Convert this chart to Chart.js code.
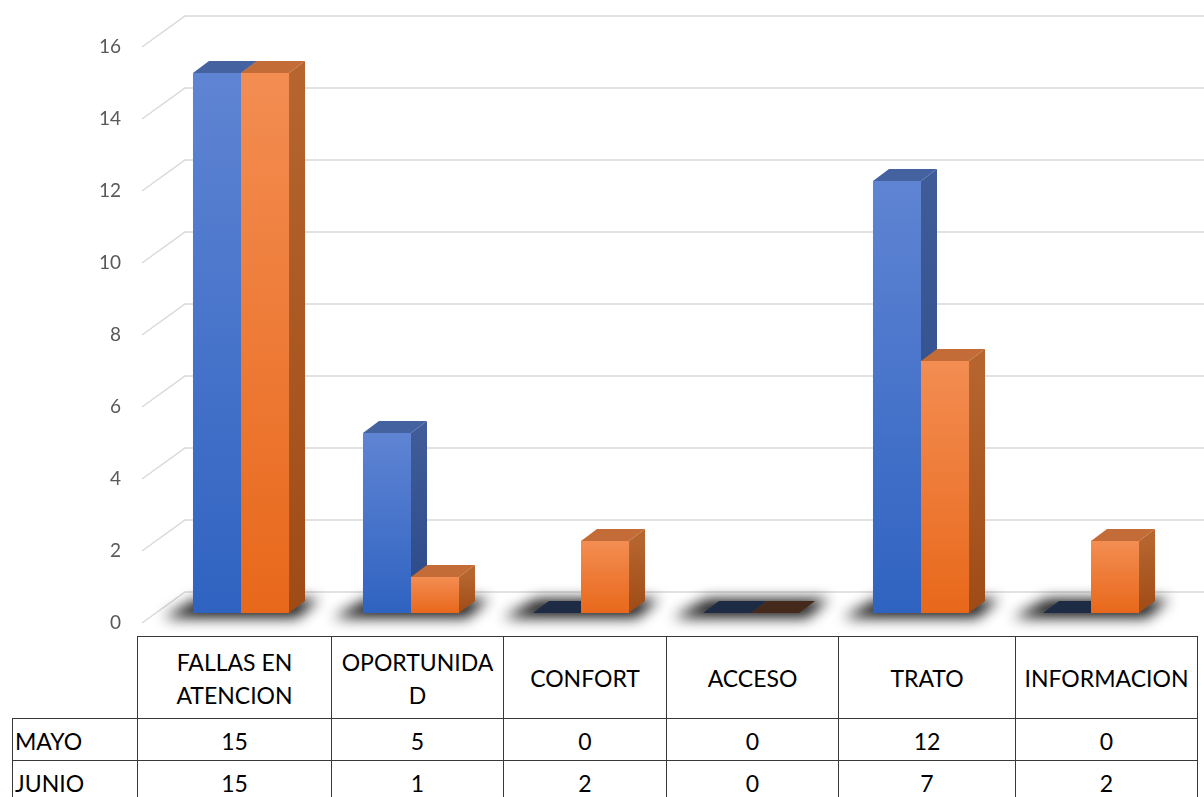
<!DOCTYPE html>
<html>
<head>
<meta charset="utf-8">
<script src="https://cdn.jsdelivr.net/npm/chart.js@4.4.0/dist/chart.umd.min.js"></script>
<style>
html, body { margin: 0; padding: 0; background: #fff; width: 1204px; height: 797px; overflow: hidden; }
#grafico { position: absolute; left: 0; top: 0; width: 1204px; height: 636px; }
#tabla { position: absolute; left: 12px; top: 636px; border-collapse: collapse; table-layout: fixed;
  font-family: Lato, "Open Sans", sans-serif; font-size: 23px; color: #000; }
#tabla td { border: 1.5px solid #383838; text-align: center; padding: 0; line-height: 33px; overflow: hidden; white-space: nowrap; }
#tabla td.vacio { border: none; }
#tabla td.serie { text-align: left; padding-left: 2px; }
#tabla tr.cab td { padding-top: 2px; }
#tabla tr.fila td { padding-top: 3px; }
#tabla tr.cab { height: 82px; }
#tabla tr.fila { height: 42px; }
#tabla td:nth-child(1) { width: 122px; }
#tabla td:nth-child(2) { width: 193px; }
#tabla td:nth-child(3) { width: 171px; }
#tabla td:nth-child(4) { width: 162px; }
#tabla td:nth-child(5) { width: 171px; }
#tabla td:nth-child(6) { width: 176px; }
#tabla td:nth-child(7) { width: 181px; }
</style>
</head>
<body>
<div id="grafico"><canvas id="lienzo"></canvas></div>
<table id="tabla"></table>
<script>
// datos
const categorias = [['FALLAS EN', 'ATENCION'], ['OPORTUNIDA', 'D'], 'CONFORT', 'ACCESO', 'TRATO', 'INFORMACION'];
const series = ['MAYO', 'JUNIO'];
const mayo = [15, 5, 0, 0, 12, 0];
const junio = [15, 1, 2, 0, 7, 2];
const yMin = 0, yMax = 16, yPaso = 2;

// colores de cada cara (frente arriba/abajo, costado arriba/abajo, techo, vacio)
const estilos = [
  { frente: ['#5f84d3', '#2f63c1'], lado: ['#3f5c99', '#2b4987'], techo: '#43629f', cero: '#1e2b45' },
  { frente: ['#f38d52', '#e8681b'], lado: ['#b6652f', '#9f4b16'], techo: '#c46c38', cero: '#45291a' }
];
const DX = 16, DY = 12;

// tabla de datos debajo del grafico
const tabla = document.getElementById('tabla');
let filas = '<tr class="cab"><td class="vacio"></td>';
categorias.forEach(c => { filas += '<td>' + (Array.isArray(c) ? c.join('<br>') : c) + '</td>'; });
filas += '</tr>';
[mayo, junio].forEach((vals, k) => {
  filas += '<tr class="fila"><td class="serie">' + series[k] + '</td>';
  vals.forEach(v => { filas += '<td>' + v + '</td>'; });
  filas += '</tr>';
});
tabla.innerHTML = filas;

const poligono = (ctx, pts, fill) => {
  ctx.beginPath();
  ctx.moveTo(pts[0][0], pts[0][1]);
  for (let i = 1; i < pts.length; i++) ctx.lineTo(pts[i][0], pts[i][1]);
  ctx.closePath();
  ctx.fillStyle = fill;
  ctx.fill();
};

const barras3d = {
  id: 'barras3d',
  beforeDatasetsDraw(chart) {
    const ctx = chart.ctx, y = chart.scales.y, area = chart.chartArea;
    const xf = area.left - 14, xb = area.left + 29;
    // rejilla en perspectiva
    ctx.save();
    ctx.strokeStyle = '#d9d9d9';
    ctx.lineWidth = 1.5;
    y.ticks.forEach(t => {
      const py = y.getPixelForValue(t.value);
      ctx.beginPath();
      ctx.moveTo(xf, py + 10);
      ctx.lineTo(xb, py - 21);
      ctx.lineTo(chart.width, py - 21);
      ctx.stroke();
    });
    ctx.restore();
    // sombras en el piso
    const m0 = chart.getDatasetMeta(0), m1 = chart.getDatasetMeta(1);
    ctx.save();
    ctx.filter = 'blur(7px)';
    m0.data.forEach((b0, i) => {
      const b1 = m1.data[i];
      const l = b0.x - b0.width / 2, r = b1.x + b1.width / 2, base = b0.base;
      poligono(ctx, [[l - 30, base + 5], [r + 8, base + 5], [r + DX + 14, base - DY - 2], [l + DX - 12, base - DY - 2]], 'rgba(0,0,0,0.9)');
    });
    ctx.restore();
  },
  afterDatasetsDraw(chart) {
    const ctx = chart.ctx;
    ctx.save();
    chart.data.datasets.forEach((ds, d) => {
      const est = estilos[d];
      chart.getDatasetMeta(d).data.forEach((b, i) => {
        const x0 = b.x - b.width / 2, x1 = b.x + b.width / 2, top = b.y, base = b.base;
        if (ds.data[i] === 0) {
          poligono(ctx, [[x0, base], [x1, base], [x1 + DX, base - DY], [x0 + DX, base - DY]], est.cero);
          return;
        }
        let g = ctx.createLinearGradient(0, top, 0, base);
        g.addColorStop(0, est.frente[0]);
        g.addColorStop(1, est.frente[1]);
        ctx.fillStyle = g;
        ctx.fillRect(x0, top, x1 - x0, base - top);
        poligono(ctx, [[x0, top], [x1, top], [x1 + DX, top - DY], [x0 + DX, top - DY]], est.techo);
        g = ctx.createLinearGradient(0, top, 0, base);
        g.addColorStop(0, est.lado[0]);
        g.addColorStop(1, est.lado[1]);
        poligono(ctx, [[x1, top], [x1 + DX, top - DY], [x1 + DX, base - DY], [x1, base]], g);
      });
    });
    ctx.restore();
  }
};

new Chart(document.getElementById('lienzo'), {
  type: 'bar',
  data: {
    labels: categorias,
    datasets: [
      { label: series[0], data: mayo, backgroundColor: 'rgba(0,0,0,0)', borderWidth: 0 },
      { label: series[1], data: junio, backgroundColor: 'rgba(0,0,0,0)', borderWidth: 0 }
    ]
  },
  options: {
    responsive: true,
    maintainAspectRatio: false,
    animation: false,
    events: [],
    categoryPercentage: 0.565,
    barPercentage: 1,
    layout: { padding: { top: 37, bottom: 23, left: 0, right: 28 } },
    plugins: { legend: { display: false }, tooltip: { enabled: false } },
    scales: {
      x: { display: false },
      y: {
        min: yMin, max: yMax,
        afterFit(s) { s.width = 156; s.paddingTop = 0; s.paddingBottom = 0; },
        ticks: { stepSize: yPaso, padding: 35, labelOffset: 10, color: '#595959', font: { family: 'Lato', size: 19 } },
        grid: { display: false, drawTicks: false },
        border: { display: false }
      }
    }
  },
  plugins: [barras3d]
});
</script>
</body>
</html>
